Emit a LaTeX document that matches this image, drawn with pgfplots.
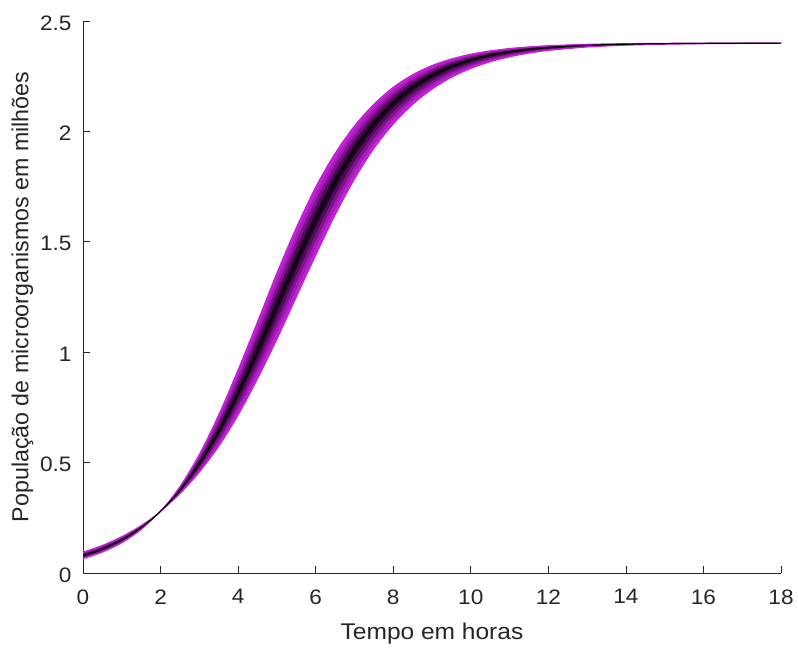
\documentclass[border=0pt]{standalone}
\usepackage{pgfplots}
\pgfplotsset{compat=1.18}
\usepackage{pgfplotstable}
\usepgfplotslibrary{fillbetween}
\usepackage{fontspec}
\setmainfont{Liberation Sans}
\newfontfamily\wide{Liberation Sans}[FakeStretch=1.08]
\definecolor{axgray}{RGB}{38,38,38}
\definecolor{b1}{RGB}{194,34,214}
\definecolor{b2}{RGB}{166,26,184}
\definecolor{b3}{RGB}{126,18,140}
\definecolor{b4}{RGB}{82,10,92}
\definecolor{b5}{RGB}{36,4,40}
\pgfplotstableread{
t c u1 l1 u2 l2 u3 l3 u4 l4 u5 l5
0 0.0786 0.0944 0.0653 0.0912 0.0680 0.0881 0.0706 0.0849 0.0733 0.0818 0.0759
0.5 0.1089 0.1245 0.0953 0.1214 0.0980 0.1183 0.1007 0.1151 0.1035 0.1120 0.1062
1 0.1503 0.1643 0.1375 0.1615 0.1401 0.1587 0.1426 0.1559 0.1452 0.1531 0.1477
1.5 0.2059 0.2146 0.1976 0.2129 0.1993 0.2111 0.2009 0.2094 0.2026 0.2076 0.2042
2 0.2796 0.2796 0.2796 0.2796 0.2796 0.2796 0.2796 0.2796 0.2796 0.2796 0.2796
2.5 0.3751 0.3912 0.3596 0.3880 0.3627 0.3848 0.3658 0.3815 0.3689 0.3783 0.3720
3 0.4957 0.5361 0.4575 0.5280 0.4651 0.5199 0.4728 0.5119 0.4804 0.5038 0.4881
3.5 0.6426 0.7156 0.5745 0.7010 0.5881 0.6864 0.6017 0.6718 0.6154 0.6572 0.6290
4 0.8145 0.9197 0.7156 0.8987 0.7354 0.8776 0.7552 0.8566 0.7749 0.8355 0.7947
4.5 1.0061 1.1365 0.8803 1.1104 0.9055 1.0843 0.9306 1.0583 0.9558 1.0322 0.9809
5 1.2084 1.3575 1.0590 1.3277 1.0889 1.2979 1.1188 1.2680 1.1486 1.2382 1.1785
5.5 1.4102 1.5627 1.2504 1.5322 1.2824 1.5017 1.3143 1.4712 1.3463 1.4407 1.3782
6 1.6004 1.7470 1.4392 1.7177 1.4714 1.6884 1.5037 1.6590 1.5359 1.6297 1.5682
6.5 1.7704 1.8996 1.6216 1.8738 1.6514 1.8479 1.6811 1.8221 1.7109 1.7962 1.7406
7 1.9153 2.0243 1.7843 2.0025 1.8105 1.9807 1.8367 1.9589 1.8629 1.9371 1.8891
7.5 2.0337 2.1224 1.9229 2.1047 1.9451 2.0869 1.9672 2.0692 1.9894 2.0514 2.0115
8 2.1273 2.1992 2.0337 2.1848 2.0524 2.1704 2.0711 2.1561 2.0899 2.1417 2.1086
8.5 2.1992 2.2563 2.1224 2.2449 2.1378 2.2335 2.1531 2.2220 2.1685 2.2106 2.1838
9 2.2535 2.2980 2.1918 2.2891 2.2041 2.2802 2.2165 2.2713 2.2288 2.2624 2.2412
9.5 2.2940 2.3278 2.2451 2.3210 2.2549 2.3143 2.2647 2.3075 2.2744 2.3008 2.2842
10 2.3236 2.3493 2.2855 2.3442 2.2931 2.3390 2.3007 2.3339 2.3084 2.3287 2.3160
10.5 2.3451 2.3643 2.3157 2.3605 2.3216 2.3566 2.3275 2.3528 2.3333 2.3489 2.3392
11 2.3606 2.3750 2.3382 2.3721 2.3427 2.3692 2.3472 2.3664 2.3516 2.3635 2.3561
11.5 2.3718 2.3825 2.3548 2.3804 2.3582 2.3782 2.3616 2.3761 2.3650 2.3739 2.3684
12 2.3799 2.3878 2.3670 2.3862 2.3696 2.3846 2.3722 2.3831 2.3747 2.3815 2.3773
13 2.3898 2.3940 2.3825 2.3932 2.3840 2.3923 2.3854 2.3915 2.3869 2.3906 2.3883
14 2.3948 2.3971 2.3907 2.3966 2.3915 2.3962 2.3923 2.3957 2.3932 2.3953 2.3940
15 2.3974 2.3986 2.3951 2.3984 2.3956 2.3981 2.3960 2.3979 2.3965 2.3976 2.3969
16 2.3987 2.3993 2.3974 2.3992 2.3977 2.3991 2.3979 2.3989 2.3982 2.3988 2.3984
17 2.3993 2.3997 2.3987 2.3996 2.3988 2.3995 2.3989 2.3995 2.3991 2.3994 2.3992
18 2.3997 2.3998 2.3994 2.3998 2.3995 2.3998 2.3995 2.3997 2.3996 2.3997 2.3996
}\band
\begin{document}
\begin{tikzpicture}
\begin{axis}[
  at={(83bp,73bp)}, anchor=south west,
  width=698bp, height=552bp, scale only axis,
  xmin=0, xmax=18, ymin=0, ymax=2.5,
  xtick={0,2,...,18}, ytick={0,0.5,1,1.5,2,2.5},
  axis x line*=bottom, axis y line*=left,
  axis line style={axgray, line width=0.7bp, -},
  tick align=inside, major tick length=7bp,
  tick style={axgray, line width=0.7bp},
  /pgf/number format/assume math mode=true,
  ticklabel style={font=\wide\fontsize{21}{24}\selectfont, text=axgray},
  xticklabel style={yshift=-13bp},
  yticklabel style={/pgf/number format/fixed, xshift=-8bp, yshift=-2bp},
  xlabel style={font=\wide\fontsize{22.8}{26}\selectfont, text=axgray, yshift=-12bp},
  ylabel style={font=\fontsize{23.3}{26}\selectfont, text=axgray, yshift=0bp},
  xlabel={Tempo em horas},
  ylabel={População de microorganismos em milhões},
]
\addplot[name path=U1, draw=b1, line width=1.2bp, smooth] table[x=t,y=u1]{\band};
\addplot[name path=L1, draw=b1, line width=1.2bp, smooth] table[x=t,y=l1]{\band};
\addplot[name path=U2, draw=none, smooth] table[x=t,y=u2]{\band};
\addplot[name path=L2, draw=none, smooth] table[x=t,y=l2]{\band};
\addplot[name path=U3, draw=none, smooth] table[x=t,y=u3]{\band};
\addplot[name path=L3, draw=none, smooth] table[x=t,y=l3]{\band};
\addplot[name path=U4, draw=none, smooth] table[x=t,y=u4]{\band};
\addplot[name path=L4, draw=none, smooth] table[x=t,y=l4]{\band};
\addplot[name path=U5, draw=none, smooth] table[x=t,y=u5]{\band};
\addplot[name path=L5, draw=none, smooth] table[x=t,y=l5]{\band};
\addplot[fill=b1, draw=none] fill between[of=U1 and L1];
\addplot[fill=b2, draw=none] fill between[of=U2 and L2];
\addplot[fill=b3, draw=none] fill between[of=U3 and L3];
\addplot[fill=b4, draw=none] fill between[of=U4 and L4];
\addplot[fill=b5, draw=none] fill between[of=U5 and L5];
\addplot[black, line width=1.2bp, smooth] table[x=t,y=c]{\band};
\end{axis}
\path (0,0) rectangle (798bp,646bp);
\end{tikzpicture}
\end{document}
